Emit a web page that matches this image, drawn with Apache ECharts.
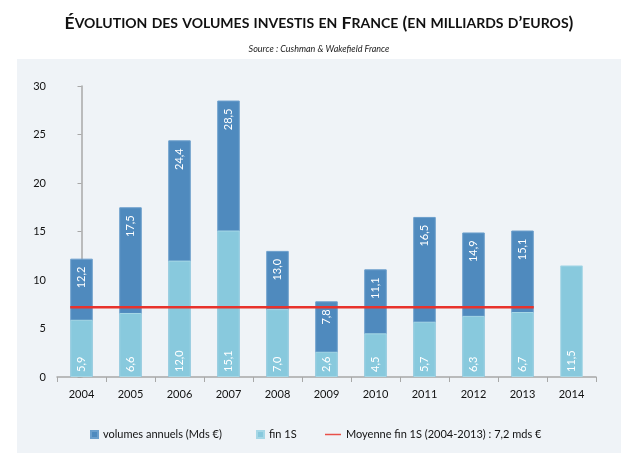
<!DOCTYPE html>
<html>
<head>
<meta charset="utf-8">
<script src="https://cdn.jsdelivr.net/npm/echarts@6/dist/echarts.min.js"></script>
<style>
html,body{margin:0;padding:0;background:#fff;}
#panel{position:absolute;left:17px;top:59px;width:604px;height:394px;background:#eff3f7;}
#chart{position:absolute;left:0;top:0;width:638px;height:453px;}
</style>
</head>
<body>
<div id="panel"></div>
<div id="chart"></div>
<script>
const years = ['2004','2005','2006','2007','2008','2009','2010','2011','2012','2013','2014'];
const volumesAnnuels = [12.2, 17.5, 24.4, 28.5, 13.0, 7.8, 11.1, 16.5, 14.9, 15.1, null];
const fin1S = [5.9, 6.6, 12.0, 15.1, 7.0, 2.6, 4.5, 5.7, 6.3, 6.7, 11.5];
const moyenneFin1S = 7.2;
const moyenneFrom = '2004', moyenneTo = '2013';
const yTicks = {min: 0, max: 30, interval: 5};
const names = ['volumes annuels (Mds €)', 'fin 1S', 'Moyenne fin 1S (2004-2013) : 7,2 mds €'];
const titleText = 'Évolution des volumes investis en France (en milliards d’euros)';
const subtitleText = 'Source : Cushman & Wakefield France';

const BAR_FRAC = 0.46;
const FONT = 'Lato, "Open Sans", sans-serif';

function smallCaps(s){
  let out = '';
  let run = '', runType = null;
  const flush = () => { if (run) out += '{' + runType + '|' + run + '}'; run=''; };
  for (const ch of s){
    const isLower = ch !== ch.toUpperCase();
    const t = isLower ? 's' : 'b';
    if (t !== runType){ flush(); runType = t; }
    run += isLower ? ch.toUpperCase() : ch;
  }
  flush();
  return out;
}
const fmt = v => v == null ? '' : v.toFixed(1).replace('.', ',');

const i0 = years.indexOf(moyenneFrom), i1 = years.indexOf(moyenneTo);
const avgLine = [[i0 - BAR_FRAC/2, moyenneFin1S], [i1 + BAR_FRAC/2, moyenneFin1S]];

const legendText = {fontFamily: FONT, fontSize: 11, color: '#111'};
const chart = echarts.init(document.getElementById('chart'), null, {renderer:'canvas'});
chart.setOption({
  backgroundColor: 'transparent',
  animation: false,
  title: [{
    text: smallCaps(titleText),
    left: 'center', top: 9,
    textStyle: {
      rich: {
        b: {fontFamily: FONT, fontWeight: 'bold', fontSize: 17.5, color: '#111'},
        s: {fontFamily: FONT, fontWeight: 'bold', fontSize: 14, color: '#111'}
      }
    }
  },{
    text: subtitleText,
    left: 'center', top: 40,
    textStyle: {fontFamily: FONT, fontStyle: 'italic', fontWeight: 'normal', fontSize: 9, color: '#222'}
  }],
  grid: {left: 57, right: 42, top: 86, bottom: 76, containLabel: false},
  legend: [{
    data: [names[0]], left: 90, top: 429, padding: 0, itemWidth: 7, itemHeight: 7, icon: 'rect',
    textStyle: legendText
  },{
    data: [names[1]], left: 256, top: 429, padding: 0, itemWidth: 7, itemHeight: 7, icon: 'rect',
    textStyle: legendText
  },{
    data: [names[2]], left: 325, top: 429, padding: 0, itemWidth: 16, itemHeight: 1.5, icon: 'rect',
    textStyle: legendText
  }],
  xAxis: [{
    type: 'category', data: years,
    axisLine: {lineStyle: {color: '#a8a8a8', width: 1.5}},
    axisTick: {show: true, alignWithLabel: false, length: 5, lineStyle: {color: '#a8a8a8'}},
    axisLabel: {fontFamily: FONT, fontSize: 11, color: '#111', margin: 12}
  },{
    type: 'value', min: -0.5, max: years.length - 0.5, show: false
  }],
  yAxis: {
    type: 'value', min: yTicks.min, max: yTicks.max, interval: yTicks.interval,
    axisLine: {show: true, lineStyle: {color: '#a8a8a8', width: 1.5}},
    axisTick: {show: true, length: 4, lineStyle: {color: '#a8a8a8'}},
    splitLine: {show: false},
    axisLabel: {fontFamily: FONT, fontSize: 11, color: '#111', margin: 11}
  },
  series: [{
    name: names[0], type: 'bar', data: volumesAnnuels, barWidth: (BAR_FRAC*100)+'%', barGap: '-100%',
    itemStyle: {color: '#4f8abe', borderColor: '#6c9fcc', borderWidth: 1},
    label: {show: true, position: 'insideTop', rotate: 90, align: 'right', verticalAlign: 'middle', distance: 8,
      formatter: p => fmt(p.value), color: '#fff', fontFamily: FONT, fontSize: 11}
  },{
    name: names[1], type: 'bar', data: fin1S, barWidth: (BAR_FRAC*100)+'%', barGap: '-100%',
    itemStyle: {color: '#88c9dd', borderColor: '#a6d7e6', borderWidth: 1},
    label: {show: true, position: 'insideBottom', rotate: 90, align: 'left', verticalAlign: 'middle', distance: 5,
      formatter: p => fmt(p.value), color: '#fff', fontFamily: FONT, fontSize: 11}
  },{
    name: names[2], type: 'line', xAxisIndex: 1, data: avgLine, symbol: 'none',
    itemStyle: {color: '#e8504a'},
    lineStyle: {color: '#e8322c', width: 2.5}, z: 5
  }]
});
</script>
</body>
</html>
